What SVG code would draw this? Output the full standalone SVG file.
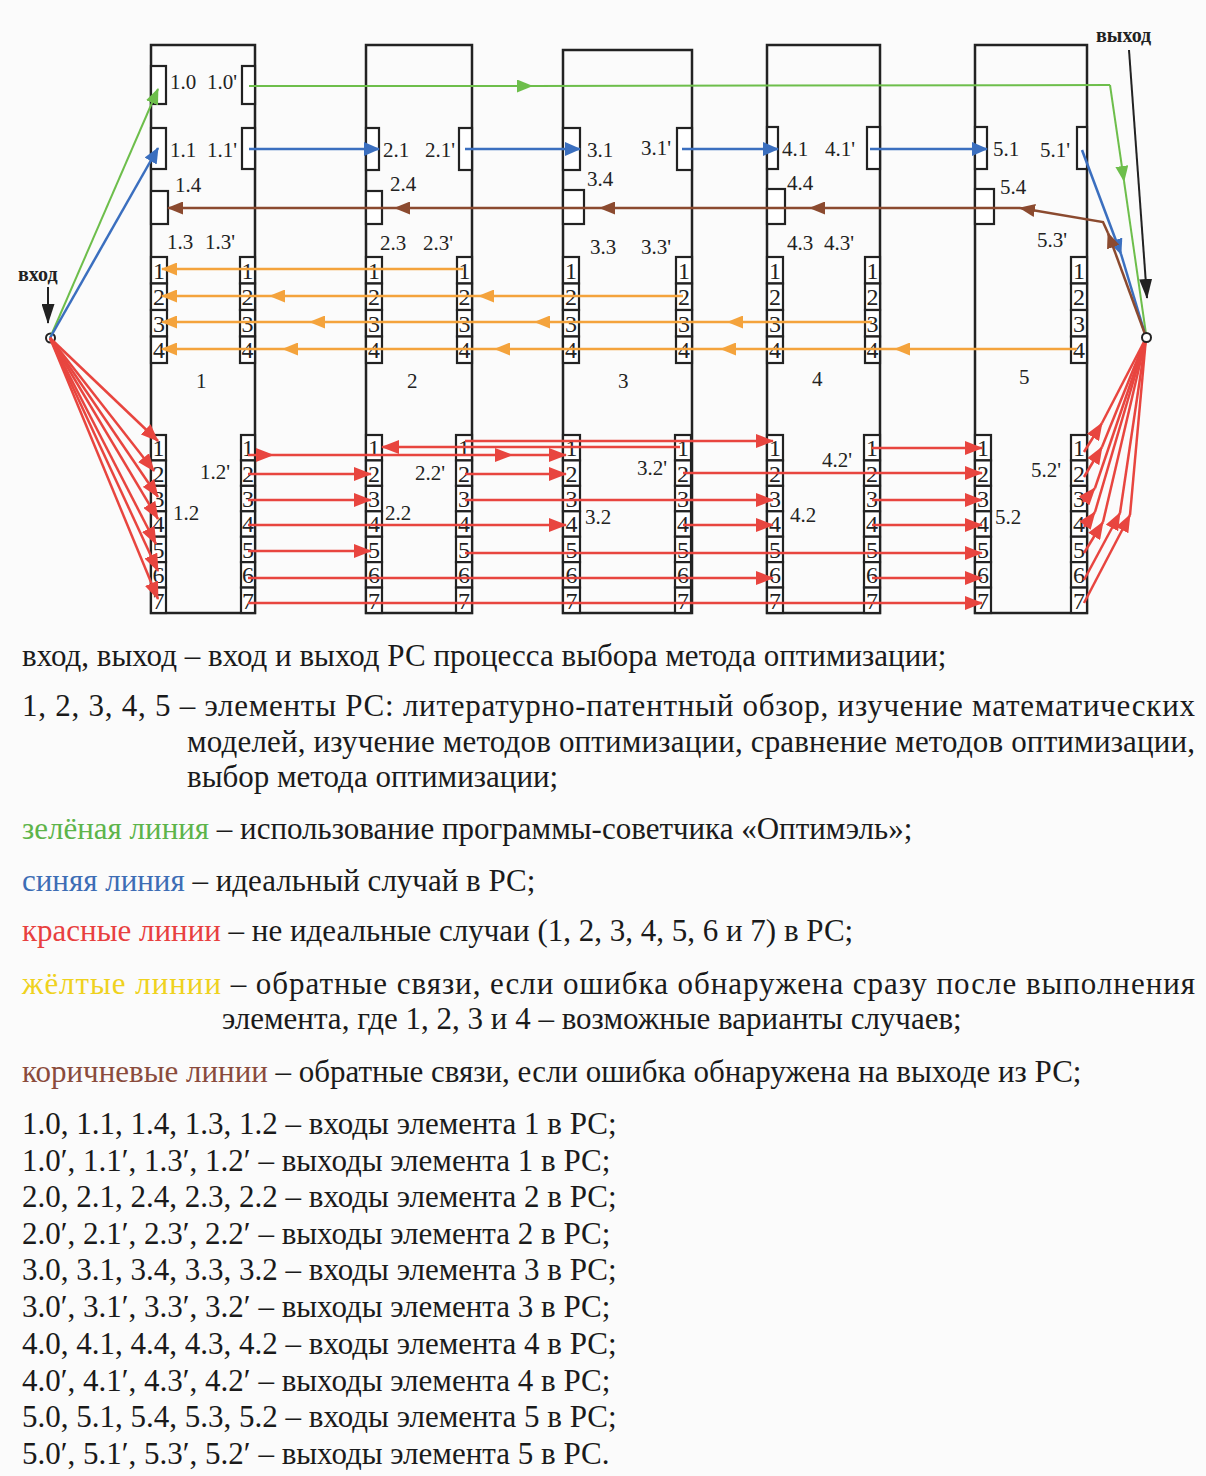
<svg xmlns="http://www.w3.org/2000/svg" width="1206" height="1476" viewBox="0 0 1206 1476">
<style>
.el{fill:none;stroke:#222;stroke-width:2.5}
.pt{fill:#fff;stroke:#222;stroke-width:2.2}
.d{font-family:"Liberation Serif","Times New Roman",serif;font-size:24px;fill:#222;text-anchor:middle}
.lb{font-family:"Liberation Serif","Times New Roman",serif;font-size:21px;fill:#222}
.io{font-family:"Liberation Serif","Times New Roman",serif;font-size:20px;font-weight:bold;fill:#222}
.lg{font-family:"Liberation Serif","Times New Roman",serif;font-size:31px;fill:#1a1a1a}
.g{fill:none;stroke:#6DBE4B;stroke-width:2}
.b{fill:none;stroke:#3B6FBF;stroke-width:2.5}
.br{fill:none;stroke:#8B4A2F;stroke-width:2.5}
.y{fill:none;stroke:#F4A33C;stroke-width:2.5}
.r{fill:none;stroke:#E8453F;stroke-width:2.5}
.k{fill:none;stroke:#222;stroke-width:2}
</style>
<defs>
<marker id="aR" markerUnits="userSpaceOnUse" markerWidth="18" markerHeight="14" refX="17" refY="7" orient="auto"><path d="M0,0 L18,7 L0,14 z" fill="#E8453F"/></marker>
<marker id="aG" markerUnits="userSpaceOnUse" markerWidth="16" markerHeight="13" refX="15" refY="6.5" orient="auto"><path d="M0,0 L16,6.5 L0,13 z" fill="#6DBE4B"/></marker>
<marker id="aB" markerUnits="userSpaceOnUse" markerWidth="16" markerHeight="14" refX="15" refY="7" orient="auto"><path d="M0,0 L16,7 L0,14 z" fill="#3B6FBF"/></marker>
<marker id="aBr" markerUnits="userSpaceOnUse" markerWidth="16" markerHeight="13" refX="15" refY="6.5" orient="auto"><path d="M0,0 L16,6.5 L0,13 z" fill="#8B4A2F"/></marker>
<marker id="aY" markerUnits="userSpaceOnUse" markerWidth="16" markerHeight="13" refX="15" refY="6.5" orient="auto"><path d="M0,0 L16,6.5 L0,13 z" fill="#F4A33C"/></marker>
<marker id="aK" markerUnits="userSpaceOnUse" markerWidth="20" markerHeight="13" refX="19" refY="6.5" orient="auto"><path d="M0,0 L20,6.5 L0,13 z" fill="#222"/></marker>
</defs>
<rect width="1206" height="1476" fill="#fbfbfb"/>

<!-- Element 1 -->
<g id="element1">
<rect class="el" x="151" y="45" width="104" height="568"/>
<rect class="pt" x="151" y="66" width="15" height="38"/>
<rect class="pt" x="242" y="66" width="13" height="38"/>
<rect class="pt" x="151" y="128" width="15" height="41"/>
<rect class="pt" x="242" y="128" width="13" height="41"/>
<rect class="pt" x="151" y="191" width="17" height="33"/>
<text class="lb" x="170" y="89">1.0</text><text class="lb" x="207" y="89">1.0'</text>
<text class="lb" x="170" y="157">1.1</text><text class="lb" x="207" y="157">1.1'</text>
<text class="lb" x="175" y="192">1.4</text>
<text class="lb" x="167" y="249">1.3</text><text class="lb" x="205" y="249">1.3'</text>
<g>
<rect class="pt" x="151" y="257" width="16" height="26.5"/><rect class="pt" x="151" y="283.5" width="16" height="26.5"/><rect class="pt" x="151" y="310" width="16" height="26.5"/><rect class="pt" x="151" y="336.5" width="16" height="26.5"/>
<text class="d" x="159" y="279">1</text><text class="d" x="159" y="305">2</text><text class="d" x="159" y="332">3</text><text class="d" x="159" y="358">4</text>
<rect class="pt" x="240" y="257" width="15" height="26.5"/><rect class="pt" x="240" y="283.5" width="15" height="26.5"/><rect class="pt" x="240" y="310" width="15" height="26.5"/><rect class="pt" x="240" y="336.5" width="15" height="26.5"/>
<text class="d" x="247.5" y="279">1</text><text class="d" x="247.5" y="305">2</text><text class="d" x="247.5" y="332">3</text><text class="d" x="247.5" y="358">4</text>
</g>
<text class="lb" x="196" y="388">1</text>
<g>
<rect class="pt" x="151" y="435" width="15" height="25.43"/><rect class="pt" x="151" y="460.43" width="15" height="25.43"/><rect class="pt" x="151" y="485.86" width="15" height="25.43"/><rect class="pt" x="151" y="511.29" width="15" height="25.43"/><rect class="pt" x="151" y="536.71" width="15" height="25.43"/><rect class="pt" x="151" y="562.14" width="15" height="25.43"/><rect class="pt" x="151" y="587.57" width="15" height="25.43"/>
<text class="d" x="158.5" y="456">1</text><text class="d" x="158.5" y="482">2</text><text class="d" x="158.5" y="507">3</text><text class="d" x="158.5" y="532">4</text><text class="d" x="158.5" y="558">5</text><text class="d" x="158.5" y="583">6</text><text class="d" x="158.5" y="609">7</text>
<rect class="pt" x="241" y="435" width="14" height="25.43"/><rect class="pt" x="241" y="460.43" width="14" height="25.43"/><rect class="pt" x="241" y="485.86" width="14" height="25.43"/><rect class="pt" x="241" y="511.29" width="14" height="25.43"/><rect class="pt" x="241" y="536.71" width="14" height="25.43"/><rect class="pt" x="241" y="562.14" width="14" height="25.43"/><rect class="pt" x="241" y="587.57" width="14" height="25.43"/>
<text class="d" x="248" y="456">1</text><text class="d" x="248" y="482">2</text><text class="d" x="248" y="507">3</text><text class="d" x="248" y="532">4</text><text class="d" x="248" y="558">5</text><text class="d" x="248" y="583">6</text><text class="d" x="248" y="609">7</text>
</g>
<text class="lb" x="200" y="479">1.2'</text>
<text class="lb" x="173" y="520">1.2</text>
</g>

<!-- Element 2 -->
<g id="element2">
<rect class="el" x="366" y="45" width="106" height="568"/>
<rect class="pt" x="366" y="128" width="13" height="42"/>
<rect class="pt" x="459" y="128" width="13" height="42"/>
<rect class="pt" x="366" y="191" width="16" height="33"/>
<text class="lb" x="383" y="157">2.1</text><text class="lb" x="425" y="157">2.1'</text>
<text class="lb" x="390" y="191">2.4</text>
<text class="lb" x="380" y="250">2.3</text><text class="lb" x="423" y="250">2.3'</text>
<g>
<rect class="pt" x="366" y="257" width="16" height="26.5"/><rect class="pt" x="366" y="283.5" width="16" height="26.5"/><rect class="pt" x="366" y="310" width="16" height="26.5"/><rect class="pt" x="366" y="336.5" width="16" height="26.5"/>
<text class="d" x="374" y="279">1</text><text class="d" x="374" y="305">2</text><text class="d" x="374" y="332">3</text><text class="d" x="374" y="358">4</text>
<rect class="pt" x="457" y="257" width="15" height="26.5"/><rect class="pt" x="457" y="283.5" width="15" height="26.5"/><rect class="pt" x="457" y="310" width="15" height="26.5"/><rect class="pt" x="457" y="336.5" width="15" height="26.5"/>
<text class="d" x="464.5" y="279">1</text><text class="d" x="464.5" y="305">2</text><text class="d" x="464.5" y="332">3</text><text class="d" x="464.5" y="358">4</text>
</g>
<text class="lb" x="407" y="388">2</text>
<g>
<rect class="pt" x="366" y="435" width="16" height="25.43"/><rect class="pt" x="366" y="460.43" width="16" height="25.43"/><rect class="pt" x="366" y="485.86" width="16" height="25.43"/><rect class="pt" x="366" y="511.29" width="16" height="25.43"/><rect class="pt" x="366" y="536.71" width="16" height="25.43"/><rect class="pt" x="366" y="562.14" width="16" height="25.43"/><rect class="pt" x="366" y="587.57" width="16" height="25.43"/>
<text class="d" x="374" y="456">1</text><text class="d" x="374" y="482">2</text><text class="d" x="374" y="507">3</text><text class="d" x="374" y="532">4</text><text class="d" x="374" y="558">5</text><text class="d" x="374" y="583">6</text><text class="d" x="374" y="609">7</text>
<rect class="pt" x="456" y="435" width="16" height="25.43"/><rect class="pt" x="456" y="460.43" width="16" height="25.43"/><rect class="pt" x="456" y="485.86" width="16" height="25.43"/><rect class="pt" x="456" y="511.29" width="16" height="25.43"/><rect class="pt" x="456" y="536.71" width="16" height="25.43"/><rect class="pt" x="456" y="562.14" width="16" height="25.43"/><rect class="pt" x="456" y="587.57" width="16" height="25.43"/>
<text class="d" x="464" y="456">1</text><text class="d" x="464" y="482">2</text><text class="d" x="464" y="507">3</text><text class="d" x="464" y="532">4</text><text class="d" x="464" y="558">5</text><text class="d" x="464" y="583">6</text><text class="d" x="464" y="609">7</text>
</g>
<text class="lb" x="415" y="480">2.2'</text>
<text class="lb" x="385" y="520">2.2</text>
</g>

<!-- Element 3 -->
<g id="element3">
<rect class="el" x="563" y="50" width="129" height="563"/>
<rect class="pt" x="563" y="128" width="17" height="42"/>
<rect class="pt" x="677" y="128" width="15" height="42"/>
<rect class="pt" x="563" y="190" width="21" height="34"/>
<text class="lb" x="587" y="157">3.1</text><text class="lb" x="641" y="155">3.1'</text>
<text class="lb" x="587" y="186">3.4</text>
<text class="lb" x="590" y="254">3.3</text><text class="lb" x="641" y="254">3.3'</text>
<g>
<rect class="pt" x="563" y="257" width="16" height="26.5"/><rect class="pt" x="563" y="283.5" width="16" height="26.5"/><rect class="pt" x="563" y="310" width="16" height="26.5"/><rect class="pt" x="563" y="336.5" width="16" height="26.5"/>
<text class="d" x="571" y="279">1</text><text class="d" x="571" y="305">2</text><text class="d" x="571" y="332">3</text><text class="d" x="571" y="358">4</text>
<rect class="pt" x="676" y="257" width="16" height="26.5"/><rect class="pt" x="676" y="283.5" width="16" height="26.5"/><rect class="pt" x="676" y="310" width="16" height="26.5"/><rect class="pt" x="676" y="336.5" width="16" height="26.5"/>
<text class="d" x="684" y="279">1</text><text class="d" x="684" y="305">2</text><text class="d" x="684" y="332">3</text><text class="d" x="684" y="358">4</text>
</g>
<text class="lb" x="618" y="388">3</text>
<g>
<rect class="pt" x="563" y="435" width="17" height="25.43"/><rect class="pt" x="563" y="460.43" width="17" height="25.43"/><rect class="pt" x="563" y="485.86" width="17" height="25.43"/><rect class="pt" x="563" y="511.29" width="17" height="25.43"/><rect class="pt" x="563" y="536.71" width="17" height="25.43"/><rect class="pt" x="563" y="562.14" width="17" height="25.43"/><rect class="pt" x="563" y="587.57" width="17" height="25.43"/>
<text class="d" x="571.5" y="456">1</text><text class="d" x="571.5" y="482">2</text><text class="d" x="571.5" y="507">3</text><text class="d" x="571.5" y="532">4</text><text class="d" x="571.5" y="558">5</text><text class="d" x="571.5" y="583">6</text><text class="d" x="571.5" y="609">7</text>
<rect class="pt" x="675" y="435" width="16" height="25.43"/><rect class="pt" x="675" y="460.43" width="16" height="25.43"/><rect class="pt" x="675" y="485.86" width="16" height="25.43"/><rect class="pt" x="675" y="511.29" width="16" height="25.43"/><rect class="pt" x="675" y="536.71" width="16" height="25.43"/><rect class="pt" x="675" y="562.14" width="16" height="25.43"/><rect class="pt" x="675" y="587.57" width="16" height="25.43"/>
<text class="d" x="683" y="456">1</text><text class="d" x="683" y="482">2</text><text class="d" x="683" y="507">3</text><text class="d" x="683" y="532">4</text><text class="d" x="683" y="558">5</text><text class="d" x="683" y="583">6</text><text class="d" x="683" y="609">7</text>
</g>
<text class="lb" x="637" y="475">3.2'</text>
<text class="lb" x="585" y="524">3.2</text>
</g>

<!-- Element 4 -->
<g id="element4">
<rect class="el" x="767" y="45" width="113" height="568"/>
<rect class="pt" x="767" y="127" width="11" height="42"/>
<rect class="pt" x="867" y="127" width="13" height="42"/>
<rect class="pt" x="767" y="189" width="18" height="35"/>
<text class="lb" x="782" y="156">4.1</text><text class="lb" x="825" y="156">4.1'</text>
<text class="lb" x="787" y="190">4.4</text>
<text class="lb" x="787" y="250">4.3</text><text class="lb" x="824" y="250">4.3'</text>
<g>
<rect class="pt" x="767" y="257" width="16" height="26.5"/><rect class="pt" x="767" y="283.5" width="16" height="26.5"/><rect class="pt" x="767" y="310" width="16" height="26.5"/><rect class="pt" x="767" y="336.5" width="16" height="26.5"/>
<text class="d" x="775" y="279">1</text><text class="d" x="775" y="305">2</text><text class="d" x="775" y="332">3</text><text class="d" x="775" y="358">4</text>
<rect class="pt" x="865" y="257" width="15" height="26.5"/><rect class="pt" x="865" y="283.5" width="15" height="26.5"/><rect class="pt" x="865" y="310" width="15" height="26.5"/><rect class="pt" x="865" y="336.5" width="15" height="26.5"/>
<text class="d" x="872.5" y="279">1</text><text class="d" x="872.5" y="305">2</text><text class="d" x="872.5" y="332">3</text><text class="d" x="872.5" y="358">4</text>
</g>
<text class="lb" x="812" y="386">4</text>
<g>
<rect class="pt" x="767" y="435" width="16" height="25.43"/><rect class="pt" x="767" y="460.43" width="16" height="25.43"/><rect class="pt" x="767" y="485.86" width="16" height="25.43"/><rect class="pt" x="767" y="511.29" width="16" height="25.43"/><rect class="pt" x="767" y="536.71" width="16" height="25.43"/><rect class="pt" x="767" y="562.14" width="16" height="25.43"/><rect class="pt" x="767" y="587.57" width="16" height="25.43"/>
<text class="d" x="775" y="456">1</text><text class="d" x="775" y="482">2</text><text class="d" x="775" y="507">3</text><text class="d" x="775" y="532">4</text><text class="d" x="775" y="558">5</text><text class="d" x="775" y="583">6</text><text class="d" x="775" y="609">7</text>
<rect class="pt" x="864" y="435" width="16" height="25.43"/><rect class="pt" x="864" y="460.43" width="16" height="25.43"/><rect class="pt" x="864" y="485.86" width="16" height="25.43"/><rect class="pt" x="864" y="511.29" width="16" height="25.43"/><rect class="pt" x="864" y="536.71" width="16" height="25.43"/><rect class="pt" x="864" y="562.14" width="16" height="25.43"/><rect class="pt" x="864" y="587.57" width="16" height="25.43"/>
<text class="d" x="872" y="456">1</text><text class="d" x="872" y="482">2</text><text class="d" x="872" y="507">3</text><text class="d" x="872" y="532">4</text><text class="d" x="872" y="558">5</text><text class="d" x="872" y="583">6</text><text class="d" x="872" y="609">7</text>
</g>
<text class="lb" x="822" y="467">4.2'</text>
<text class="lb" x="790" y="522">4.2</text>
</g>

<!-- Element 5 -->
<g id="element5">
<rect class="el" x="975" y="45" width="112" height="568"/>
<rect class="pt" x="975" y="127" width="12" height="42"/>
<rect class="pt" x="1077" y="127" width="10" height="42"/>
<rect class="pt" x="975" y="189" width="19" height="35"/>
<text class="lb" x="993" y="156">5.1</text><text class="lb" x="1040" y="157">5.1'</text>
<text class="lb" x="1000" y="194">5.4</text>
<text class="lb" x="1037" y="247">5.3'</text>
<g>
<rect class="pt" x="1071" y="257" width="16" height="26.5"/><rect class="pt" x="1071" y="283.5" width="16" height="26.5"/><rect class="pt" x="1071" y="310" width="16" height="26.5"/><rect class="pt" x="1071" y="336.5" width="16" height="26.5"/>
<text class="d" x="1079" y="279">1</text><text class="d" x="1079" y="305">2</text><text class="d" x="1079" y="332">3</text><text class="d" x="1079" y="358">4</text>
</g>
<text class="lb" x="1019" y="384">5</text>
<g>
<rect class="pt" x="975" y="435" width="16" height="25.43"/><rect class="pt" x="975" y="460.43" width="16" height="25.43"/><rect class="pt" x="975" y="485.86" width="16" height="25.43"/><rect class="pt" x="975" y="511.29" width="16" height="25.43"/><rect class="pt" x="975" y="536.71" width="16" height="25.43"/><rect class="pt" x="975" y="562.14" width="16" height="25.43"/><rect class="pt" x="975" y="587.57" width="16" height="25.43"/>
<text class="d" x="983" y="456">1</text><text class="d" x="983" y="482">2</text><text class="d" x="983" y="507">3</text><text class="d" x="983" y="532">4</text><text class="d" x="983" y="558">5</text><text class="d" x="983" y="583">6</text><text class="d" x="983" y="609">7</text>
<rect class="pt" x="1071" y="435" width="16" height="25.43"/><rect class="pt" x="1071" y="460.43" width="16" height="25.43"/><rect class="pt" x="1071" y="485.86" width="16" height="25.43"/><rect class="pt" x="1071" y="511.29" width="16" height="25.43"/><rect class="pt" x="1071" y="536.71" width="16" height="25.43"/><rect class="pt" x="1071" y="562.14" width="16" height="25.43"/><rect class="pt" x="1071" y="587.57" width="16" height="25.43"/>
<text class="d" x="1079" y="456">1</text><text class="d" x="1079" y="482">2</text><text class="d" x="1079" y="507">3</text><text class="d" x="1079" y="532">4</text><text class="d" x="1079" y="558">5</text><text class="d" x="1079" y="583">6</text><text class="d" x="1079" y="609">7</text>
</g>
<text class="lb" x="1031" y="477">5.2'</text>
<text class="lb" x="995" y="524">5.2</text>
</g>

<!-- Input / output -->
<g id="input">
<text class="io" x="18" y="281">вход</text>
<path class="k" d="M48,287 L48,323" marker-end="url(#aK)"/>
<circle cx="50.5" cy="338" r="4.5" fill="#fff" stroke="#222" stroke-width="2"/>
</g>
<g id="output">
<text class="io" x="1096" y="42">выход</text>
<path class="k" d="M1129,50 L1147,298" marker-end="url(#aK)"/>
</g>

<g id="connectors">
<!-- green -->
<path class="g" d="M50,338 L158,89" marker-end="url(#aG)"/>
<path class="g" d="M249,86 L532,86" marker-end="url(#aG)"/>
<path class="g" d="M532,86 L1110,85"/>
<path class="g" d="M1110,85 L1124,181" marker-end="url(#aG)"/>
<path class="g" d="M1124,181 L1146,334"/>
<!-- blue -->
<path class="b" d="M50,338 L158,148" marker-end="url(#aB)"/>
<path class="b" d="M249,149 L379,149" marker-end="url(#aB)"/>
<path class="b" d="M465,149 L580,149" marker-end="url(#aB)"/>
<path class="b" d="M682,149 L778,149" marker-end="url(#aB)"/>
<path class="b" d="M870,149 L987,149" marker-end="url(#aB)"/>
<path class="b" d="M1082,150 L1121,254" marker-end="url(#aB)"/>
<path class="b" d="M1121,254 L1145,334"/>
<!-- brown -->
<path class="br" d="M1145,334 L1108,233" marker-end="url(#aBr)"/>
<path class="br" d="M1108,233 L1103,222 L1020,208" marker-end="url(#aBr)"/>
<path class="br" d="M1020,208 L810,208" marker-end="url(#aBr)"/>
<path class="br" d="M810,208 L600,208" marker-end="url(#aBr)"/>
<path class="br" d="M600,208 L395,208" marker-end="url(#aBr)"/>
<path class="br" d="M395,208 L168,208" marker-end="url(#aBr)"/>
<!-- yellow -->
<path class="y" d="M463,269 L162,269" marker-end="url(#aY)"/>
<path class="y" d="M683,296 L479,296" marker-end="url(#aY)"/>
<path class="y" d="M479,296 L270,296" marker-end="url(#aY)"/>
<path class="y" d="M270,296 L162,296" marker-end="url(#aY)"/>
<path class="y" d="M872,322 L728,322" marker-end="url(#aY)"/>
<path class="y" d="M728,322 L535,322" marker-end="url(#aY)"/>
<path class="y" d="M535,322 L310,322" marker-end="url(#aY)"/>
<path class="y" d="M310,322 L162,322" marker-end="url(#aY)"/>
<path class="y" d="M1077,349 L895,349" marker-end="url(#aY)"/>
<path class="y" d="M895,349 L721,349" marker-end="url(#aY)"/>
<path class="y" d="M721,349 L495,349" marker-end="url(#aY)"/>
<path class="y" d="M495,349 L283,349" marker-end="url(#aY)"/>
<path class="y" d="M283,349 L162,349" marker-end="url(#aY)"/>
<!-- red input fan -->
<path class="r" d="M50,338 L158,441" marker-end="url(#aR)"/>
<path class="r" d="M50,338 L154,471" marker-end="url(#aR)"/>
<path class="r" d="M50,338 L158,497" marker-end="url(#aR)"/>
<path class="r" d="M50,338 L158,519" marker-end="url(#aR)"/>
<path class="r" d="M50,338 L156,544" marker-end="url(#aR)"/>
<path class="r" d="M50,338 L158,571" marker-end="url(#aR)"/>
<path class="r" d="M50,338 L158,599" marker-end="url(#aR)"/>
<!-- red between elements -->
<path class="r" d="M248,455 L273,455" marker-end="url(#aR)"/>
<path class="r" d="M273,455 L512,455" marker-end="url(#aR)"/>
<path class="r" d="M512,455 L566,455" marker-end="url(#aR)"/>
<path class="r" d="M465,441 L773,441" marker-end="url(#aR)"/>
<path class="r" d="M680,447 L382,447" marker-end="url(#aR)"/>
<path class="r" d="M872,448 L982,448" marker-end="url(#aR)"/>
<path class="r" d="M248,474 L371,474" marker-end="url(#aR)"/>
<path class="r" d="M465,474 L566,474" marker-end="url(#aR)"/>
<path class="r" d="M683,473 L982,473" marker-end="url(#aR)"/>
<path class="r" d="M248,500 L371,500" marker-end="url(#aR)"/>
<path class="r" d="M465,500 L773,500" marker-end="url(#aR)"/>
<path class="r" d="M872,500 L982,500" marker-end="url(#aR)"/>
<path class="r" d="M248,525 L566,525" marker-end="url(#aR)"/>
<path class="r" d="M683,525 L773,525" marker-end="url(#aR)"/>
<path class="r" d="M872,525 L982,525" marker-end="url(#aR)"/>
<path class="r" d="M248,551 L371,551" marker-end="url(#aR)"/>
<path class="r" d="M465,553 L982,553" marker-end="url(#aR)"/>
<path class="r" d="M248,578 L773,578" marker-end="url(#aR)"/>
<path class="r" d="M872,578 L982,578" marker-end="url(#aR)"/>
<path class="r" d="M248,603 L982,603" marker-end="url(#aR)"/>
<!-- red output fan -->
<path class="r" d="M1084,452 L1102,423" marker-end="url(#aR)"/><path class="r" d="M1102,423 L1146,338"/>
<path class="r" d="M1084,477 L1102,447" marker-end="url(#aR)"/><path class="r" d="M1102,447 L1146,338"/>
<path class="r" d="M1083,502 L1095,488" marker-end="url(#aR)"/><path class="r" d="M1095,488 L1146,338"/>
<path class="r" d="M1084,527 L1095,512" marker-end="url(#aR)"/><path class="r" d="M1095,512 L1146,338"/>
<path class="r" d="M1084,553 L1103,522" marker-end="url(#aR)"/><path class="r" d="M1103,522 L1146,338"/>
<path class="r" d="M1084,580 L1120,513" marker-end="url(#aR)"/><path class="r" d="M1120,513 L1146,338"/>
<path class="r" d="M1084,603 L1130,515" marker-end="url(#aR)"/><path class="r" d="M1130,515 L1146,338"/>
</g>
<circle cx="1146.5" cy="337.5" r="4.5" fill="#fff" stroke="#222" stroke-width="2"/>

<g id="legend">
<text class="lg" x="22" y="666">вход, выход – вход и выход РС процесса выбора метода оптимизации;</text>
<text class="lg" x="22" y="716" textLength="1173" lengthAdjust="spacing">1, 2, 3, 4, 5 – элементы РС: литературно-патентный обзор, изучение математических</text>
<text class="lg" x="187" y="752" textLength="1008" lengthAdjust="spacing">моделей, изучение методов оптимизации, сравнение методов оптимизации,</text>
<text class="lg" x="187" y="787">выбор метода оптимизации;</text>
<text class="lg" x="22" y="839"><tspan fill="#5DB44A">зелёная линия</tspan> – использование программы-советчика «Оптимэль»;</text>
<text class="lg" x="22" y="891"><tspan fill="#3D6DB5">синяя линия</tspan> – идеальный случай в РС;</text>
<text class="lg" x="22" y="941"><tspan fill="#E8403F">красные линии</tspan> – не идеальные случаи (1, 2, 3, 4, 5, 6 и 7) в РС;</text>
<text class="lg" x="22" y="994" textLength="1173" lengthAdjust="spacing"><tspan fill="#EFD21E">жёлтые линии</tspan> – обратные связи, если ошибка обнаружена сразу после выполнения</text>
<text class="lg" x="222" y="1029">элемента, где 1, 2, 3 и 4 – возможные варианты случаев;</text>
<text class="lg" x="22" y="1082"><tspan fill="#8A4B3C">коричневые линии</tspan> – обратные связи, если ошибка обнаружена на выходе из РС;</text>
<text class="lg" x="22" y="1134">1.0, 1.1, 1.4, 1.3, 1.2 – входы элемента 1 в РС;</text>
<text class="lg" x="22" y="1171">1.0′, 1.1′, 1.3′, 1.2′ – выходы элемента 1 в РС;</text>
<text class="lg" x="22" y="1207">2.0, 2.1, 2.4, 2.3, 2.2 – входы элемента 2 в РС;</text>
<text class="lg" x="22" y="1244">2.0′, 2.1′, 2.3′, 2.2′ – выходы элемента 2 в РС;</text>
<text class="lg" x="22" y="1280">3.0, 3.1, 3.4, 3.3, 3.2 – входы элемента 3 в РС;</text>
<text class="lg" x="22" y="1317">3.0′, 3.1′, 3.3′, 3.2′ – выходы элемента 3 в РС;</text>
<text class="lg" x="22" y="1354">4.0, 4.1, 4.4, 4.3, 4.2 – входы элемента 4 в РС;</text>
<text class="lg" x="22" y="1391">4.0′, 4.1′, 4.3′, 4.2′ – выходы элемента 4 в РС;</text>
<text class="lg" x="22" y="1427">5.0, 5.1, 5.4, 5.3, 5.2 – входы элемента 5 в РС;</text>
<text class="lg" x="22" y="1464">5.0′, 5.1′, 5.3′, 5.2′ – выходы элемента 5 в РС.</text>
</g>
</svg>
